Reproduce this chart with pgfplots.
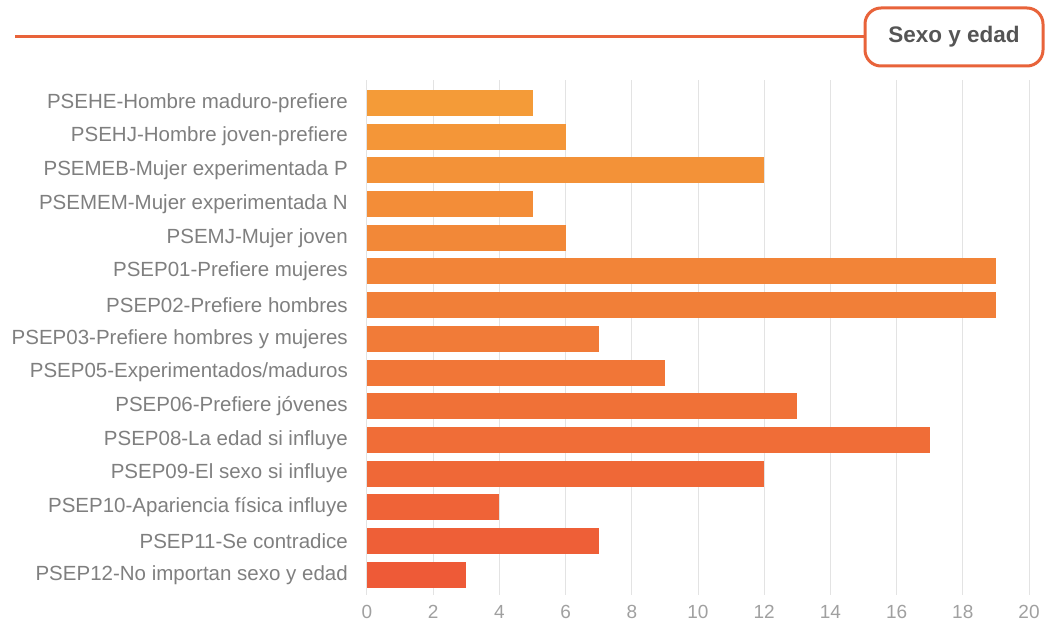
\documentclass[border=0pt]{standalone}
\usepackage{pgfplots}
\pgfplotsset{compat=1.18}
\usepackage{fontspec}
\setmainfont{Liberation Sans}
\definecolor{bartop}{HTML}{F49B38}
\definecolor{barbot}{HTML}{EE5A37}
\definecolor{lblgray}{HTML}{7F7F7F}
\definecolor{tickgray}{HTML}{A0A0A0}
\definecolor{gridgray}{HTML}{E3E3E3}
\definecolor{accent}{HTML}{E8633A}
\definecolor{titlegray}{HTML}{555555}
\begin{document}
\begin{tikzpicture}[x=1pt,y=1pt]
\path[use as bounding box] (0,0) rectangle (1045,622);
\begin{axis}[
  at={(367pt,27pt)}, anchor=south west,
  scale only axis, width=662pt, height=515pt,
  xmin=0, xmax=20, ymin=-0.68, ymax=14.6,
  y dir=reverse,
  xbar, bar width=26pt, bar shift=0pt,
  axis line style={draw=none},
  major tick length=0pt,
  xtick={0,2,...,20},
  ytick={0,...,14},
  yticklabels={PSEHE-Hombre maduro-prefiere,PSEHJ-Hombre joven-prefiere,PSEMEB-Mujer experimentada P,PSEMEM-Mujer experimentada N,PSEMJ-Mujer joven,PSEP01-Prefiere mujeres,PSEP02-Prefiere hombres,PSEP03-Prefiere hombres y mujeres,PSEP05-Experimentados/maduros,PSEP06-Prefiere jóvenes,PSEP08-La edad si influye,PSEP09-El sexo si influye,PSEP10-Apariencia física influye,PSEP11-Se contradice,PSEP12-No importan sexo y edad},
  yticklabel style={anchor=east, inner sep=0pt, xshift=-19pt, font=\fontsize{20.5}{24}\selectfont, text=lblgray},
  xticklabel style={anchor=north, inner sep=0pt, yshift=-10pt, font=\fontsize{19}{22}\selectfont, text=tickgray},
  /pgf/number format/assume math mode=true,
  xmajorgrids, major grid style={gridgray, line width=1pt},
  clip=false,
]
\addplot[fill={barbot!0!bartop}, draw=none] coordinates {(5,0)};
\addplot[fill={barbot!7!bartop}, draw=none] coordinates {(6,1)};
\addplot[fill={barbot!14!bartop}, draw=none] coordinates {(12,2)};
\addplot[fill={barbot!21!bartop}, draw=none] coordinates {(5,3)};
\addplot[fill={barbot!29!bartop}, draw=none] coordinates {(6,4)};
\addplot[fill={barbot!36!bartop}, draw=none] coordinates {(19,5)};
\addplot[fill={barbot!43!bartop}, draw=none] coordinates {(19,6)};
\addplot[fill={barbot!50!bartop}, draw=none] coordinates {(7,7)};
\addplot[fill={barbot!57!bartop}, draw=none] coordinates {(9,8)};
\addplot[fill={barbot!64!bartop}, draw=none] coordinates {(13,9)};
\addplot[fill={barbot!71!bartop}, draw=none] coordinates {(17,10)};
\addplot[fill={barbot!79!bartop}, draw=none] coordinates {(12,11)};
\addplot[fill={barbot!86!bartop}, draw=none] coordinates {(4,12)};
\addplot[fill={barbot!93!bartop}, draw=none] coordinates {(7,13)};
\addplot[fill={barbot!100!bartop}, draw=none] coordinates {(3,14)};
\end{axis}
\draw[accent, line width=3pt] (15,585) -- (865,585);
\draw[accent, line width=3pt, rounded corners=16pt, fill=white] (865,556) rectangle (1043,614);
\node[font=\bfseries\fontsize{22.5}{26}\selectfont, text=titlegray] at (954,585) {Sexo y edad};
\end{tikzpicture}
\end{document}
